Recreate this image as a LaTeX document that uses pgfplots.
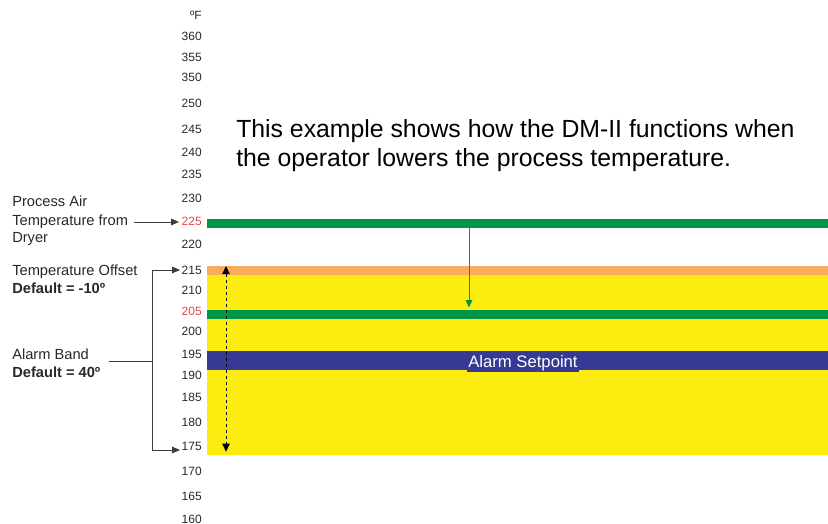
\documentclass[border=0pt]{standalone}
\usepackage{pgfplots}
\pgfplotsset{compat=1.18}
\usepackage{fontspec}
\setmainfont{Liberation Sans}
\usetikzlibrary{arrows.meta}
\definecolor{barYellow}{RGB}{252,236,16}
\definecolor{barOrange}{RGB}{250,172,92}
\definecolor{barGreen}{RGB}{0,150,72}
\definecolor{barBlue}{RGB}{54,58,148}
\definecolor{labelred}{RGB}{232,72,72}
\definecolor{labelgray}{RGB}{40,40,40}
\definecolor{lineGray}{RGB}{60,60,60}
\begin{document}
\begin{tikzpicture}
\path[use as bounding box] (0,0) rectangle (621pt,-393pt);
\begin{axis}[at={(155.25pt,0pt)}, anchor=north west, scale only axis,
  width=465.75pt, height=393pt,
  xmin=0, xmax=621, ymin=157.273, ymax=276.364,
  axis x line=none, axis y line*=left, y axis line style={draw=none},
  major tick length=0pt, clip=false,
  ytick={158.41,163.64,169.32,175,180.45,186.14,191.14,195.91,201.14,205.68,210.45,215,220.91,226.14,231.36,236.82,241.82,247.05,252.95,258.86,263.41,268.18,272.95},
  yticklabels={160,165,170,175,180,185,190,195,200,\textcolor{labelred}{205},210,215,220,\textcolor{labelred}{225},230,235,240,245,250,350,355,360,ºF},
  yticklabel style={font=\fontsize{9}{10}\selectfont, text=labelgray, inner sep=0pt, anchor=east, xshift=-3.75pt},
]
% yellow alarm band
\addplot[draw=none, fill=barYellow] coordinates {(0,172.95) (621,172.95) (621,213.86) (0,213.86)} -- cycle;
% temperature offset band
\addplot[draw=none, fill=barOrange] coordinates {(0,213.86) (621,213.86) (621,215.91) (0,215.91)} -- cycle;
% process air temperature 225
\addplot[draw=none, fill=barGreen] coordinates {(0,224.55) (621,224.55) (621,226.59) (0,226.59)} -- cycle;
% lowered temperature 205
\addplot[draw=none, fill=barGreen] coordinates {(0,203.86) (621,203.86) (621,205.91) (0,205.91)} -- cycle;
% alarm setpoint
\addplot[draw=none, fill=barBlue] coordinates {(0,192.27) (621,192.27) (621,196.59) (0,196.59)} -- cycle;
\node[fill=barBlue, text=white, inner sep=1.2pt, font=\fontsize{12.5}{14}\selectfont] at (axis cs:316,193.9) {Alarm Setpoint};
\draw[barGreen, line width=0.75pt, -{Triangle[width=5pt,length=5.5pt]}] (axis cs:262,224.55) -- (axis cs:262,206.5);
\draw[black, line width=0.75pt, dash pattern=on 2.5pt off 2pt, {Triangle[width=5.5pt,length=6pt]}-{Triangle[width=5.5pt,length=6pt]}] (axis cs:19,215.9) -- (axis cs:19,173.7);
\end{axis}
\begin{scope}[x=0.75pt,y=-0.75pt]
\node[anchor=base west, inner sep=0pt, font=\fontsize{18.6}{20}\selectfont] at (236,138) {This example shows how the DM-II functions when};
\node[anchor=base west, inner sep=0pt, font=\fontsize{18.6}{20}\selectfont] at (236,167) {the operator lowers the process temperature.};
\begin{scope}[every node/.style={anchor=base west, inner sep=0pt, font=\fontsize{11}{13}\selectfont, text=labelgray}]
\node at (12,207) {Process Air};
\node at (12,225) {Temperature from};
\node at (12,243) {Dryer};
\node at (12,275) {Temperature Offset};
\node at (12,293) {\bfseries Default = -10º};
\node at (12,359) {Alarm Band};
\node at (12,377) {\bfseries Default = 40º};
\end{scope}
\begin{scope}[lineGray, line width=0.75pt]
\draw[-{Triangle[width=5pt,length=6pt]}] (134,222) -- (179,222);
\draw (109,361) -- (152,361);
\draw (152,270) -- (152,450.4);
\draw[-{Triangle[width=5pt,length=6pt]}] (152,270) -- (180,270);
\draw[-{Triangle[width=5pt,length=6pt]}] (151.6,450) -- (180,450);
\end{scope}
\end{scope}
\end{tikzpicture}
\end{document}
